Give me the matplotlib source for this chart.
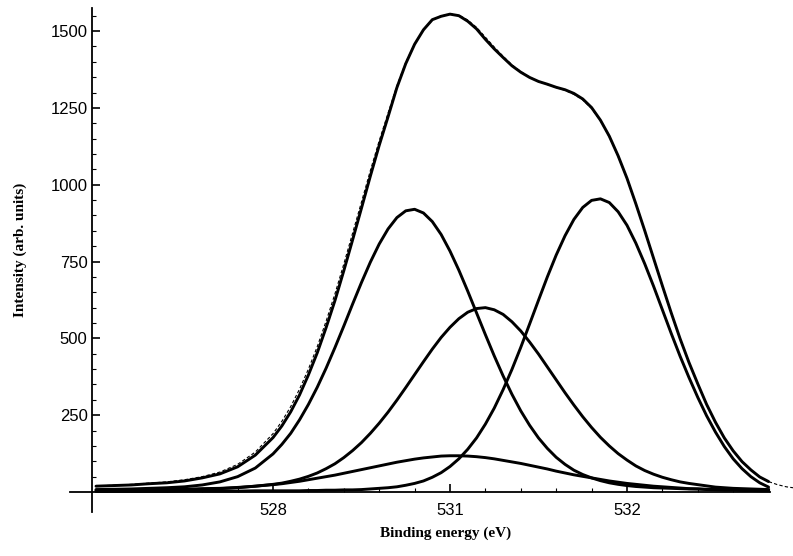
import matplotlib
matplotlib.use("Agg")
import matplotlib.pyplot as plt
import numpy as np

# binding energy grid (axis units); finer steps across the peaks
energy = [527.0, 527.1, 527.2, 527.3, 527.4, 527.5, 527.6, 527.7, 527.8, 527.9,
          528.0, 528.05, 528.1, 528.15, 528.2, 528.25, 528.3, 528.35, 528.4, 528.45,
          528.5, 528.55, 528.6, 528.65, 528.7, 528.75, 528.8, 528.85, 528.9, 528.95,
          529.0, 529.05, 529.1, 529.15, 529.2, 529.25, 529.3, 529.35, 529.4, 529.45,
          529.5, 529.55, 529.6, 529.65, 529.7, 529.75, 529.8, 529.85, 529.9, 529.95,
          530.0, 530.05, 530.1, 530.15, 530.2, 530.25, 530.3, 530.35, 530.4, 530.45,
          530.5, 530.55, 530.6, 530.65, 530.7, 530.75, 530.8]

# fitted components
peak_a = [8, 9, 10, 12, 14, 17, 23, 33, 50, 78,
          124, 155, 191, 235, 285, 341, 403, 470, 540, 612,
          682, 748, 807, 856, 893, 915, 920, 908, 880, 838,
          784, 722, 654, 583, 512, 443, 378, 318, 264, 217,
          176, 142, 113, 90, 71, 57, 46, 37, 30, 25,
          21, 18, 16, 14, 13, 12, 11, 10, 10, 9,
          9, 8, 8, 7, 7, 6, 6]
peak_b = [6, 6, 7, 8, 8, 9, 11, 12, 15, 19,
          25, 29, 35, 42, 51, 62, 76, 92, 112, 135,
          161, 191, 224, 260, 299, 340, 382, 424, 465, 503,
          536, 564, 585, 597, 600, 593, 578, 554, 524, 488,
          449, 407, 365, 323, 283, 245, 210, 178, 150, 125,
          104, 85, 70, 58, 48, 40, 33, 28, 24, 20,
          16, 14, 12, 11, 10, 9, 8]
peak_c = [2, 2, 2, 2, 2, 3, 3, 3, 3, 4,
          4, 4, 4, 4, 5, 5, 6, 6, 7, 7,
          8, 10, 12, 14, 17, 22, 28, 36, 48, 63,
          83, 108, 139, 176, 221, 273, 333, 399, 471, 547,
          624, 700, 771, 834, 887, 926, 949, 954, 942, 912,
          868, 810, 743, 670, 593, 516, 442, 373, 308, 248,
          195, 148, 108, 76, 50, 30, 16]
peak_d = [3, 4, 4, 5, 6, 7, 9, 11, 14, 19,
          24, 27, 31, 35, 40, 45, 50, 55, 61, 67,
          73, 79, 85, 91, 97, 102, 107, 111, 114, 117,
          118, 118, 117, 115, 112, 108, 103, 98, 93, 87,
          81, 75, 68, 62, 56, 51, 46, 41, 36, 32,
          28, 25, 22, 19, 17, 15, 13, 11, 10, 8,
          7, 6, 6, 5, 5, 4, 4]
envelope = [19, 21, 23, 27, 30, 36, 46, 59, 82, 120,
            177, 215, 261, 316, 381, 453, 535, 623, 720, 821,
            924, 1028, 1128, 1221, 1316, 1394, 1457, 1504, 1537, 1548,
            1555, 1550, 1532, 1507, 1473, 1442, 1414, 1387, 1366, 1349,
            1336, 1327, 1317, 1309, 1297, 1279, 1251, 1210, 1158, 1094,
            1021, 938, 851, 761, 671, 583, 499, 422, 352, 285,
            227, 176, 134, 99, 72, 49, 34]

# measured spectrum (dashed), runs a little past the fit
data_energy = energy + [530.85, 530.9, 530.95]
measured = [20, 22, 25, 29, 33, 40, 50, 65, 90, 130,
            190, 230, 278, 335, 400, 473, 556, 645, 742, 843,
            944, 1046, 1143, 1233, 1322, 1398, 1458, 1503, 1535, 1550,
            1556, 1552, 1536, 1512, 1480, 1448, 1418, 1390, 1368, 1350,
            1336, 1326, 1316, 1307, 1294, 1276, 1248, 1208, 1156, 1092,
            1020, 938, 850, 760, 670, 583, 499, 422, 352, 286,
            228, 176, 133, 98, 71, 49, 34, 24, 17, 13]

ytick_vals = [250, 500, 750, 1000, 1250, 1500]
xtick_vals = [528, 529, 530]
xtick_labels = ["528", "531", "532"]

fig = plt.figure(figsize=(7.93, 5.56), dpi=100)
ax = fig.add_axes([70 / 793, 44 / 556, 723 / 793, 504 / 556])

for comp in [peak_a, peak_b, peak_c, peak_d, envelope]:
    ax.plot(energy, comp, color="black", lw=2.1, solid_joinstyle="round",
            solid_capstyle="round")
ax.plot(data_energy, measured, color="black", lw=0.8, ls=(0, (3, 2)))

ax.set_xlim(526.853, 530.938)
ax.set_ylim(-65, 1575)

ax.spines["top"].set_visible(False)
ax.spines["right"].set_visible(False)
ax.spines["left"].set_position(("data", 526.98))
ax.spines["bottom"].set_position(("data", 0))
ax.spines["bottom"].set_bounds(526.853, 530.81)
ax.spines["left"].set_linewidth(1.3)
ax.spines["bottom"].set_linewidth(1.3)

ax.set_yticks(ytick_vals)
ax.set_yticks(np.arange(50, 1560, 50), minor=True)
ax.set_xticks(xtick_vals)
ax.set_xticklabels(xtick_labels)
ax.set_xticks(np.arange(527.2, 530.81, 0.2), minor=True)
ax.tick_params(which="major", direction="in", length=6, width=1.2, labelsize=12)
ax.tick_params(which="minor", direction="in", length=3, width=0.8)
ax.tick_params(axis="x", pad=8)
for lab in ax.get_xticklabels() + ax.get_yticklabels():
    lab.set_family("Liberation Sans")

fig.text(446 / 793, 1 - 533 / 556, "Binding energy (eV)", ha="center", va="center",
         family="Liberation Serif", weight="bold", fontsize=11)
fig.text(20 / 793, 1 - 250 / 556, "Intensity (arb. units)", ha="center", va="center",
         rotation=90, family="Liberation Serif", weight="bold", fontsize=11)

fig.savefig("out.png", dpi=100)
